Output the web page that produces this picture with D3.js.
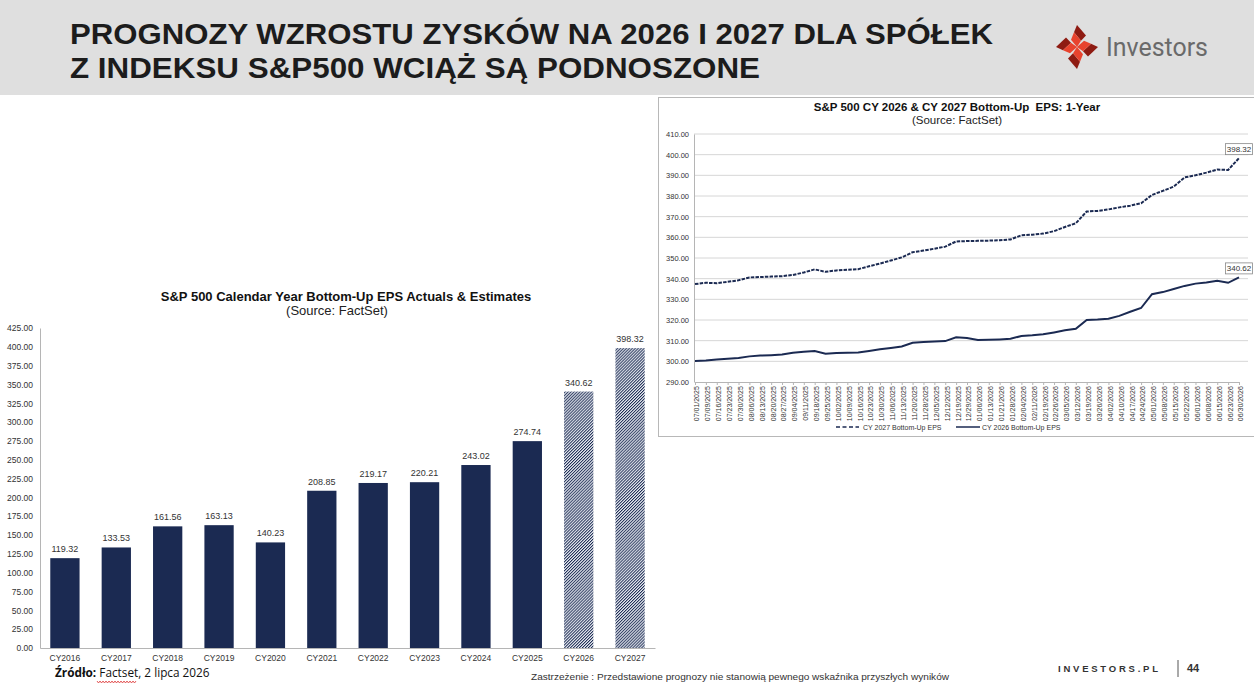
<!DOCTYPE html>
<html><head><meta charset="utf-8">
<script src="https://cdn.jsdelivr.net/npm/d3@7/dist/d3.min.js"></script>
<style>
body{margin:0;background:#fff;}
svg{display:block;font-family:"Liberation Sans",Arial,sans-serif;}
</style></head>
<body><svg id="c" width="1254" height="690"></svg>
<script>
// ---- data ----
const barCategories = ["CY2016","CY2017","CY2018","CY2019","CY2020","CY2021","CY2022","CY2023","CY2024","CY2025","CY2026","CY2027"];
const barValues = [119.32,133.53,161.56,163.13,140.23,208.85,219.17,220.21,243.02,274.74,340.62,398.32];
const barEstimate = [false,false,false,false,false,false,false,false,false,false,true,true];
const barTicks = [0,25,50,75,100,125,150,175,200,225,250,275,300,325,350,375,400,425];

const dateLabels = ["07/01/2025","07/09/2025","07/16/2025","07/23/2025","07/30/2025","08/06/2025","08/13/2025","08/20/2025","08/27/2025","09/04/2025","09/11/2025","09/18/2025","09/25/2025","10/02/2025","10/09/2025","10/16/2025","10/23/2025","10/30/2025","11/06/2025","11/13/2025","11/20/2025","11/28/2025","12/05/2025","12/12/2025","12/19/2025","12/29/2025","01/06/2026","01/13/2026","01/21/2026","01/28/2026","02/04/2026","02/11/2026","02/19/2026","02/26/2026","03/05/2026","03/12/2026","03/19/2026","03/26/2026","04/02/2026","04/10/2026","04/17/2026","04/24/2026","05/01/2026","05/08/2026","05/15/2026","05/22/2026","06/01/2026","06/08/2026","06/15/2026","06/23/2026","06/30/2026"];
const eps2027 = [337.4,338.0,337.8,338.5,339.2,340.6,340.8,341.0,341.2,341.8,343.0,344.5,343.3,344.0,344.3,344.6,346.0,347.3,348.8,350.3,352.8,353.6,354.5,355.5,358.0,358.2,358.3,358.4,358.6,359.0,361.0,361.3,361.8,363.0,365.0,366.8,372.5,372.8,373.5,374.5,375.3,376.5,380.5,382.5,384.5,389.0,390.0,391.3,392.8,392.6,398.32];
const eps2026 = [300.2,300.4,300.9,301.3,301.6,302.4,302.8,303.0,303.3,304.2,304.6,305.0,303.7,304.0,304.2,304.3,305.0,305.8,306.5,307.2,309.0,309.3,309.6,309.8,311.6,311.3,310.3,310.4,310.6,310.9,312.3,312.6,313.1,314.0,315.0,315.8,320.0,320.2,320.6,322.0,324.0,325.8,332.5,333.5,335.0,336.5,337.6,338.2,339.0,338.0,340.62];
const lineTicks = [290,300,310,320,330,340,350,360,370,380,390,400,410];

const navy = "#1b2a52";
const svg = d3.select("#c");

// ---- header ----
svg.append("rect").attr("x",0).attr("y",0).attr("width",1254).attr("height",95).attr("fill","#dfdfdf");
const tf = "'Liberation Sans',Arial,sans-serif";
svg.append("text").attr("x",70).attr("y",44).attr("font-family",tf).attr("font-weight",700).attr("font-size",30)
  .attr("fill","#1c1c1c").attr("textLength",923).attr("lengthAdjust","spacingAndGlyphs")
  .text("PROGNOZY WZROSTU ZYSKÓW NA 2026 I 2027 DLA SPÓŁEK");
svg.append("text").attr("x",70).attr("y",78).attr("font-family",tf).attr("font-weight",700).attr("font-size",30)
  .attr("fill","#1c1c1c").attr("textLength",690).attr("lengthAdjust","spacingAndGlyphs")
  .text("Z INDEKSU S&P500 WCIĄŻ SĄ PODNOSZONE");

// logo
const logo = svg.append("g").attr("transform","translate(1077,47) scale(1,1.05)");
for (let k=0;k<4;k++){
  const g = logo.append("g").attr("transform",`rotate(${k*90})`);
  g.append("path").attr("d","M0,-21 L9,-11 L4,-6 L-3,-14 Z").attr("fill","#8e1b12");
  g.append("path").attr("d","M-3,-14 L4,-6 L0,0 L-6,-7 Z").attr("fill","#e8432e");
}
svg.append("text").attr("x",1106).attr("y",56).attr("font-family","Roboto,'Open Sans',sans-serif").attr("font-size",25)
  .attr("fill","#6a6a6a").attr("textLength",102).attr("lengthAdjust","spacingAndGlyphs").text("Investors");

// ---- left bar chart ----
const defs = svg.append("defs");
const pat = defs.append("pattern").attr("id","hatch").attr("patternUnits","userSpaceOnUse")
  .attr("width",2.1).attr("height",2.1).attr("patternTransform","rotate(45)");
pat.append("rect").attr("width",2.1).attr("height",2.1).attr("fill","#e9ecf2");
pat.append("rect").attr("width",0.95).attr("height",2.1).attr("fill",navy);

const bx = d3.scaleBand().domain(barCategories).range([40,655]).paddingInner(0.43).paddingOuter(0.2);
const by = d3.scaleLinear().domain([0,425]).range([648,328]);

svg.append("text").attr("x",346).attr("y",301).attr("text-anchor","middle").attr("font-weight",700).attr("font-size",13)
  .attr("fill","#111").text("S&P 500 Calendar Year Bottom-Up EPS Actuals & Estimates");
svg.append("text").attr("x",337).attr("y",315).attr("text-anchor","middle").attr("font-size",13)
  .attr("fill","#222").text("(Source: FactSet)");

const ly = svg.append("g").attr("transform","translate(40,0)")
  .call(d3.axisLeft(by).tickValues(barTicks).tickFormat(d3.format(".2f")).tickSize(0).tickPadding(7));
ly.select(".domain").attr("stroke","#b5b5b5");
ly.selectAll("text").attr("font-size",8.5).attr("fill","#333").attr("font-family","'Liberation Sans',Arial,sans-serif");

svg.append("g").selectAll("rect").data(barValues).join("rect")
  .attr("x",(d,i)=>bx(barCategories[i])).attr("width",bx.bandwidth())
  .attr("y",d=>by(d)).attr("height",d=>by(0)-by(d))
  .attr("fill",(d,i)=>barEstimate[i]?"url(#hatch)":navy);
svg.append("g").selectAll("text").data(barValues).join("text")
  .attr("x",(d,i)=>bx(barCategories[i])+bx.bandwidth()/2).attr("y",d=>by(d)-6)
  .attr("text-anchor","middle").attr("font-size",9).attr("fill","#333").text(d=>d.toFixed(2));

const lx = svg.append("g").attr("transform","translate(0,648)")
  .call(d3.axisBottom(bx).tickSize(0).tickPadding(7));
lx.select(".domain").attr("stroke","#b5b5b5");
lx.selectAll("text").attr("font-size",8.5).attr("fill","#333").attr("font-family","'Liberation Sans',Arial,sans-serif");

// ---- right line chart ----
svg.append("rect").attr("x",658.5).attr("y",97.5).attr("width",620).attr("height",339).attr("fill","none").attr("stroke","#b8b8b8");
svg.append("text").attr("x",957).attr("y",111).attr("text-anchor","middle").attr("font-weight",700).attr("font-size",11.5)
  .attr("fill","#111").attr("xml:space","preserve").text("S&P 500 CY 2026 & CY 2027 Bottom-Up  EPS: 1-Year");
svg.append("text").attr("x",957).attr("y",124).attr("text-anchor","middle").attr("font-size",11.5)
  .attr("fill","#222").text("(Source: FactSet)");

const rx = d3.scalePoint().domain(dateLabels).range([695,1239]);
const ry = d3.scaleLinear().domain([290,410]).range([382,134]);

svg.append("g").selectAll("line").data(lineTicks.slice(1)).join("line")
  .attr("x1",694).attr("x2",1248).attr("y1",d=>ry(d)).attr("y2",d=>ry(d))
  .attr("stroke","#d6d6d6").attr("stroke-width",1);

const ray = svg.append("g").attr("transform","translate(694,0)")
  .call(d3.axisLeft(ry).tickValues(lineTicks).tickFormat(d3.format(".2f")).tickSize(0).tickPadding(5));
ray.select(".domain").attr("stroke","#b5b5b5");
ray.selectAll("text").attr("font-size",7.5).attr("fill","#333").attr("font-family","'Liberation Sans',Arial,sans-serif");

const rax = svg.append("g").attr("transform","translate(0,382)")
  .call(d3.axisBottom(rx).tickSize(3).tickPadding(3));
rax.select(".domain").attr("stroke","#b5b5b5");
rax.selectAll("line").attr("stroke","#b5b5b5");
rax.selectAll("text").attr("font-size",7).attr("fill","#333").attr("font-family","'Liberation Sans',Arial,sans-serif")
  .attr("text-anchor","end").attr("dx","-0.6em").attr("dy","-0.3em").attr("transform","rotate(-90)");

const line = d3.line().x((d,i)=>rx(dateLabels[i])).y(d=>ry(d));
svg.append("path").datum(eps2027).attr("d",line).attr("fill","none").attr("stroke",navy).attr("stroke-width",2).attr("stroke-dasharray","3.5,1.2");
svg.append("path").datum(eps2026).attr("d",line).attr("fill","none").attr("stroke",navy).attr("stroke-width",2);

// end labels
[[eps2027,"398.32"],[eps2026,"340.62"]].forEach(([s,t])=>{
  const x = rx(dateLabels[dateLabels.length-1]), y = ry(s[s.length-1]);
  svg.append("rect").attr("x",x-13.5).attr("y",y-14.5).attr("width",27).attr("height",11).attr("fill","#fff").attr("stroke","#888").attr("stroke-width",0.8);
  svg.append("text").attr("x",x).attr("y",y-6).attr("text-anchor","middle").attr("font-size",8).attr("fill","#333").text(t);
});

// legend
svg.append("line").attr("x1",836).attr("x2",859).attr("y1",427).attr("y2",427).attr("stroke",navy).attr("stroke-width",1.5).attr("stroke-dasharray","4,2.5");
svg.append("text").attr("x",863).attr("y",430).attr("font-size",7).attr("fill","#333").text("CY 2027 Bottom-Up EPS");
svg.append("line").attr("x1",956).attr("x2",980).attr("y1",427).attr("y2",427).attr("stroke",navy).attr("stroke-width",1.5);
svg.append("text").attr("x",982).attr("y",430).attr("font-size",7).attr("fill","#333").text("CY 2026 Bottom-Up EPS");

// ---- footer ----
const src = svg.append("text").attr("x",55).attr("y",677).attr("font-family","'Open Sans',sans-serif").attr("font-size",11.8).attr("fill","#111");
src.append("tspan").attr("font-weight",700).text("Źródło: ");
src.append("tspan").text("Factset, 2 lipca 2026");
{
  let d = "M97,681"; for (let x=97;x<135;x+=3) d += ` L${x+1.5},683 L${x+3},681`;
  svg.append("path").attr("d",d).attr("fill","none").attr("stroke","#d33").attr("stroke-width",0.8);
}
svg.append("text").attr("x",531).attr("y",680).attr("font-size",9.5).attr("fill","#333")
  .attr("textLength",418).attr("lengthAdjust","spacingAndGlyphs")
  .text("Zastrzeżenie : Przedstawione prognozy nie stanowią pewnego wskaźnika przyszłych wyników");
svg.append("text").attr("x",1058).attr("y",672).attr("font-size",9.5).attr("font-weight",700).attr("fill","#333")
  .attr("textLength",100).attr("lengthAdjust","spacing").text("INVESTORS.PL");
svg.append("line").attr("x1",1178).attr("x2",1178).attr("y1",660).attr("y2",677).attr("stroke","#555");
svg.append("text").attr("x",1187).attr("y",672).attr("font-size",11).attr("font-weight",700).attr("fill","#333").text("44");
</script></body></html>
